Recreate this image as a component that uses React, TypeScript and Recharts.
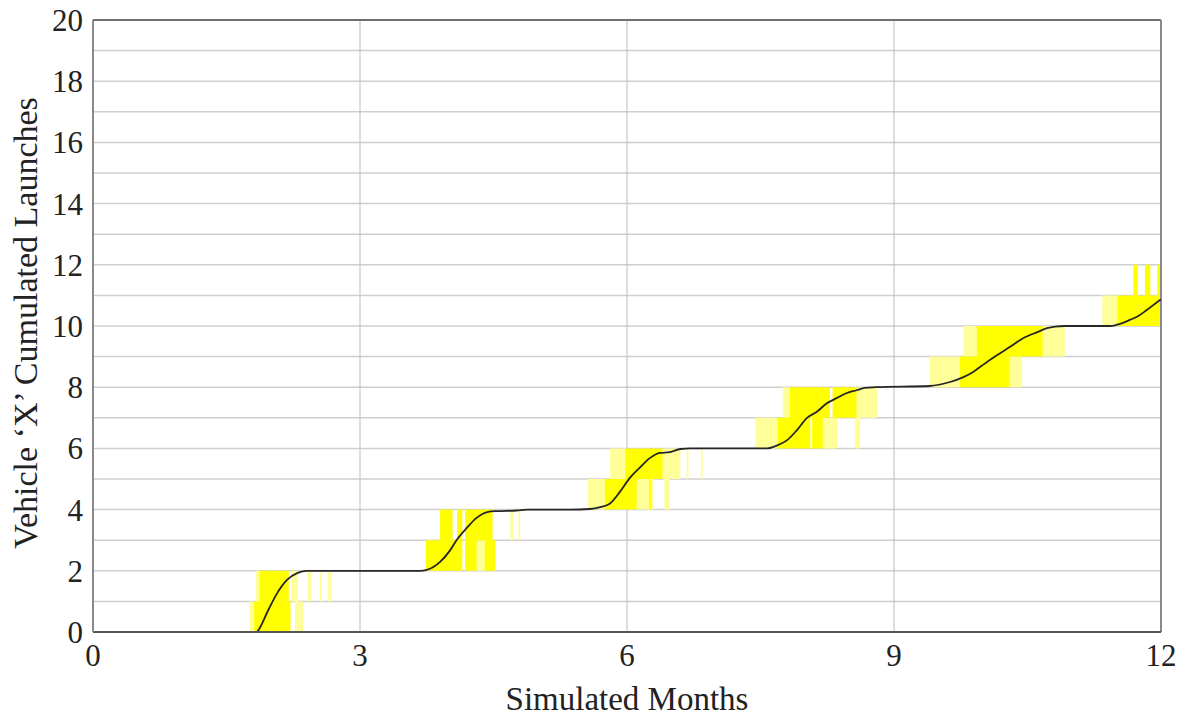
import React from 'react';
import {
  ComposedChart,
  XAxis,
  YAxis,
  CartesianGrid,
  Area,
  Line,
  ReferenceLine,
  Label,
} from 'recharts';

// Axis ticks
const xTicks = [0, 3, 6, 9, 12];
const yTicks = [0, 2, 4, 6, 8, 10, 12, 14, 16, 18, 20];
const gridYValues = [1, 2, 3, 4, 5, 6, 7, 8, 9, 10, 11, 12, 13, 14, 15, 16, 17, 18, 19];
const gridXValues = [3, 6, 9];

// Mean cumulated launches curve (month, launches)
const meanMonths = [
  0, 1.84, 1.85, 1.97, 2.07, 2.18, 2.3, 2.4,
  3.67, 3.75, 3.9, 4.01, 4.09, 4.2, 4.31, 4.43, 4.54, 4.76, 4.88,
  5.36, 5.58, 5.7, 5.81, 5.92, 6.03, 6.15, 6.26, 6.37, 6.48, 6.6, 6.71,
  7.57, 7.69, 7.8, 7.91, 8.02, 8.13, 8.25, 8.36, 8.47, 8.58, 8.67, 8.79,
  9.4, 9.63, 9.78, 9.89, 10.0, 10.16, 10.3, 10.45, 10.61, 10.72, 10.81, 10.92,
  11.43, 11.54, 11.65, 11.73, 11.84, 11.99, 12,
];
const meanLaunches = [
  0, 0, 0.03, 0.72, 1.27, 1.7, 1.93, 2.0,
  2.0, 2.03, 2.29, 2.66, 3.02, 3.4, 3.73, 3.92, 3.95, 3.97, 4.0,
  4.0, 4.02, 4.08, 4.2, 4.58, 5.03, 5.39, 5.69, 5.85, 5.88, 5.98, 6.0,
  6.0, 6.1, 6.27, 6.6, 6.99, 7.19, 7.48, 7.65, 7.81, 7.9, 7.98, 8.0,
  8.04, 8.17, 8.33, 8.5, 8.73, 9.05, 9.31, 9.6, 9.8, 9.93, 9.98, 10.0,
  10.0, 10.07, 10.2, 10.3, 10.52, 10.85, 10.87,
];

// Individual simulation runs: [start month, end month, lower launch level]
const solidBands: [number, number, number][] = [
  [1.81, 2.22, 0], [1.87, 2.2, 1],
  [3.74, 4.15, 2], [4.18, 4.31, 2], [4.4, 4.52, 2],
  [3.9, 4.04, 3], [4.09, 4.15, 3], [4.18, 4.49, 3],
  [5.75, 6.11, 4], [6.25, 6.27, 4],
  [5.98, 6.4, 5],
  [7.69, 8.06, 6], [8.08, 8.2, 6],
  [7.83, 8.28, 7], [8.31, 8.58, 7],
  [9.74, 10.3, 8],
  [9.93, 10.67, 9],
  [11.51, 12.0, 10],
  [11.69, 11.74, 11], [11.82, 11.88, 11], [11.96, 12.0, 11],
];
const paleBands: [number, number, number][] = [
  [1.76, 1.81, 0], [2.27, 2.36, 0],
  [1.83, 1.87, 1], [2.23, 2.3, 1], [2.41, 2.45, 1], [2.55, 2.57, 1], [2.64, 2.68, 1],
  [4.31, 4.4, 2],
  [4.69, 4.72, 3], [4.78, 4.8, 3],
  [5.56, 5.75, 4], [6.11, 6.3, 4], [6.42, 6.48, 4],
  [5.81, 5.98, 5], [6.4, 6.6, 5], [6.67, 6.69, 5], [6.83, 6.85, 5],
  [7.44, 7.69, 6], [8.2, 8.36, 6], [8.56, 8.62, 6],
  [7.75, 7.83, 7], [8.58, 8.81, 7],
  [9.4, 9.74, 8], [10.3, 10.44, 8],
  [9.78, 9.93, 9], [10.67, 10.92, 9],
  [11.34, 11.51, 10],
];

const bandRows = (bands: [number, number, number][]) => {
  const rows: { x: number; r: number[] | null }[] = [];
  bands.forEach(([a, b, lo]) => {
    rows.push({ x: a, r: [lo, lo + 1] });
    rows.push({ x: b, r: [lo, lo + 1] });
    rows.push({ x: b, r: null });
  });
  return rows;
};

const meanRows = meanMonths.map((m, i) => ({ x: m, y: meanLaunches[i] }));
const solidRows = bandRows(solidBands);
const paleRows = bandRows(paleBands);

const FONT = '"Liberation Serif", "Times New Roman", serif';
const TEXT = '#222';

const YLabel = (props: any) => {
  const vb = props.viewBox || {};
  const cx = 25;
  const cy = (vb.y ?? 20) + (vb.height ?? 612) / 2 - 3;
  return (
    <text
      x={cx}
      y={cy}
      transform={`rotate(-90, ${cx}, ${cy})`}
      textAnchor="middle"
      dominantBaseline="central"
      fontFamily={FONT}
      fontSize={34}
      fill={TEXT}
    >
      Vehicle ‘X’ Cumulated Launches
    </text>
  );
};

export default function App() {
  return (
    <div style={{ position: 'absolute', left: 0, top: 0, width: 1195, height: 719, background: '#fff' }}>
      <ComposedChart
        width={1195}
        height={719}
        margin={{ top: 20, right: 34, bottom: 0, left: 0 }}
      >
        <XAxis
          type="number"
          dataKey="x"
          domain={[0, 12]}
          ticks={xTicks}
          allowDataOverflow
          height={87}
          tickLine={false}
          tickSize={0}
          tickMargin={12}
          axisLine={{ stroke: '#555', strokeWidth: 2 }}
          tick={{ fill: TEXT, fontFamily: FONT, fontSize: 31 }}
        >
          <Label
            value="Simulated Months"
            position="insideBottom"
            offset={9}
            style={{ fill: TEXT, fontFamily: FONT, fontSize: 33 }}
          />
        </XAxis>
        <YAxis
          type="number"
          domain={[0, 20]}
          ticks={yTicks}
          allowDataOverflow
          width={93}
          tickLine={false}
          tickSize={0}
          tickMargin={10}
          axisLine={{ stroke: '#8a8a8a', strokeWidth: 2 }}
          tick={{ fill: TEXT, fontFamily: FONT, fontSize: 31 }}
        >
          <Label content={YLabel} />
        </YAxis>
        <Area
          data={paleRows}
          dataKey="r"
          type="linear"
          stroke="none"
          fill="#ffff9a"
          fillOpacity={1}
          isAnimationActive={false}
          connectNulls={false}
        />
        <Area
          data={solidRows}
          dataKey="r"
          type="linear"
          stroke="none"
          fill="#ffff00"
          fillOpacity={1}
          isAnimationActive={false}
          connectNulls={false}
        />
        <CartesianGrid
          horizontal
          vertical={false}
          horizontalValues={gridYValues}
          stroke="#cfcfcf"
          strokeWidth={1.5}
        />
        <CartesianGrid
          horizontal={false}
          vertical
          verticalValues={gridXValues}
          stroke="#bdbdbd"
          strokeWidth={1}
        />
        <ReferenceLine y={20} stroke="#707070" strokeWidth={2} />
        <ReferenceLine x={12} stroke="#8a8a8a" strokeWidth={2} />
        <Line
          data={meanRows}
          dataKey="y"
          type="monotone"
          dot={false}
          stroke="#262626"
          strokeWidth={1.8}
          isAnimationActive={false}
        />
      </ComposedChart>
    </div>
  );
}
